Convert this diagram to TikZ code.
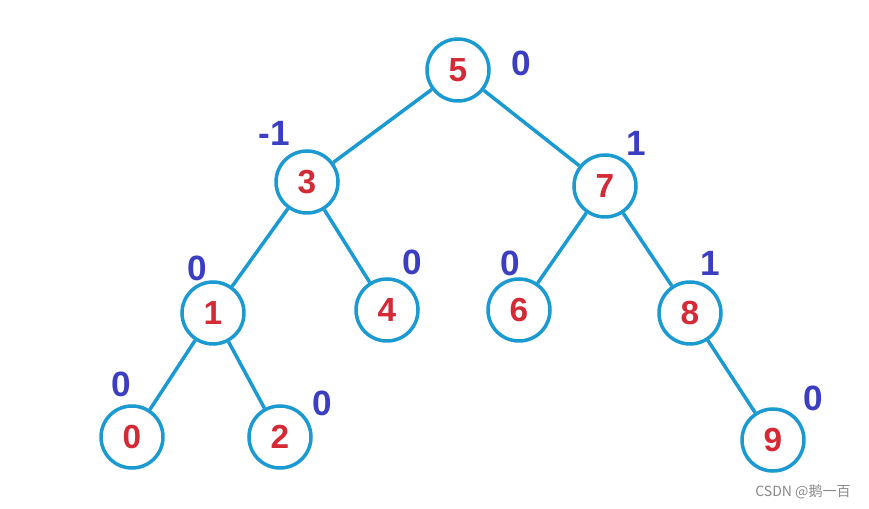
\documentclass[tikz,border=0pt]{standalone}
\usepackage{fontspec}
\setmainfont{Liberation Sans}
\newfontfamily\cjkfont{Noto Sans CJK SC}
\usetikzlibrary{positioning}
\definecolor{treeBlue}{HTML}{1A9AD0}
\definecolor{keyRed}{HTML}{D42A35}
\definecolor{balBlue}{HTML}{3C3EC2}
\definecolor{markGray}{HTML}{8A8A8A}
\tikzset{
  treenode/.style={circle, draw=treeBlue, line width=2pt, minimum size=1.24cm, inner sep=0pt,
    text=keyRed, font=\fontsize{19}{19}\selectfont\bfseries},
  treeedge/.style={treeBlue, line width=2pt},
  baltag/.style={text=balBlue, font=\fontsize{20}{20}\selectfont\bfseries, inner sep=0pt},
}

\begin{document}
\begin{tikzpicture}[x=0.02cm, y=-0.02cm]
    \useasboundingbox (0,0) rectangle (869,509);
    % nodes
    \node[treenode] (n5) at (458,70) {5};
    \node[treenode] (n3) at (307,182) {3};
    \node[treenode] (n7) at (605,186) {7};
    \node[treenode] (n1) at (213,313) {1};
    \node[treenode] (n4) at (387,310) {4};
    \node[treenode] (n6) at (519,310) {6};
    \node[treenode] (n8) at (690,313) {8};
    \node[treenode] (n0) at (132,437) {0};
    \node[treenode] (n2) at (280,437) {2};
    \node[treenode] (n9) at (773,440) {9};
    \draw[treeedge] (n5)--(n3); \draw[treeedge] (n5)--(n7);
    \draw[treeedge] (n3)--(n1); \draw[treeedge] (n3)--(n4);
    \draw[treeedge] (n7)--(n6); \draw[treeedge] (n7)--(n8);
    \draw[treeedge] (n1)--(n0); \draw[treeedge] (n1)--(n2);
    \draw[treeedge] (n8)--(n9);
    % balance factors
    \node[baltag] (b5) at (521,63) {0};
    \node[baltag] (b3) at (274,133) {-1};
    \node[baltag] (b7) at (636,143) {1};
    \node[baltag] (b1) at (197,268) {0};
    \node[baltag] (b4) at (412,262) {0};
    \node[baltag] (b6) at (510,263) {0};
    \node[baltag] (b8) at (710,263) {1};
    \node[baltag] (b0) at (121,384) {0};
    \node[baltag] (b2) at (322,403) {0};
    \node[baltag] (b9) at (813,398) {0};
    \node[text=markGray, font=\cjkfont\fontsize{8}{8}\selectfont, inner sep=0pt] (mark) at (803,492) {CSDN @鹅一百};
  \end{tikzpicture}
\end{document}
